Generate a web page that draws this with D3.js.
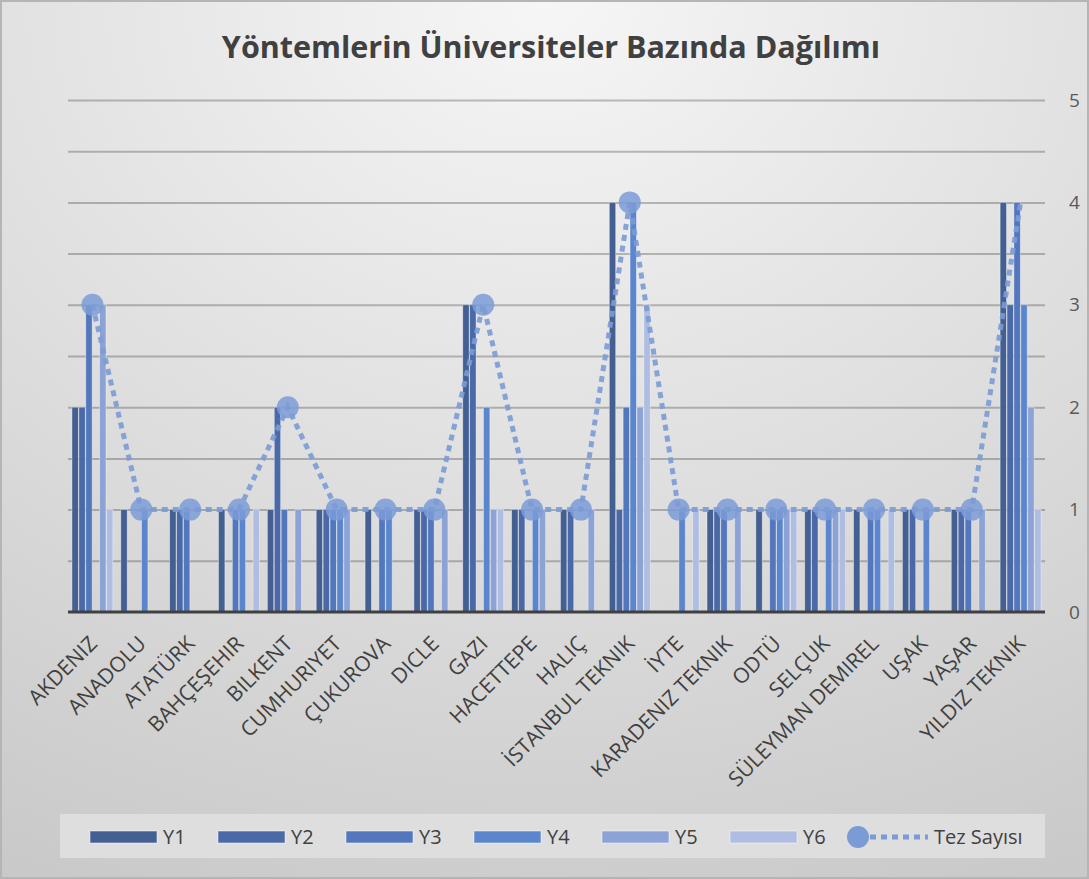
<!DOCTYPE html>
<html>
<head>
<meta charset="utf-8">
<script src="https://cdn.jsdelivr.net/npm/d3@7"></script>
<style>
  body { margin: 0; background: #fff; }
  svg text { font-family: "Open Sans", "DejaVu Sans", sans-serif; }
</style>
</head>
<body>
<div id="chart"></div>
<script>
// universities (x categories)
var universities = ["AKDENIZ", "ANADOLU", "ATATÜRK", "BAHÇEŞEHIR", "BILKENT", "CUMHURIYET",
  "ÇUKUROVA", "DICLE", "GAZI", "HACETTEPE", "HALIÇ", "İSTANBUL TEKNIK", "İYTE",
  "KARADENIZ TEKNIK", "ODTÜ", "SELÇUK", "SÜLEYMAN DEMIREL", "UŞAK", "YAŞAR", "YILDIZ TEKNIK"];

var seriesNames = ["Y1", "Y2", "Y3", "Y4", "Y5", "Y6"];

var y1 = [2, 1, 1, 1, 1, 1, 1, 1, 3, 1, 1, 4, 0, 1, 1, 1, 1, 1, 1, 4];
var y2 = [2, 0, 1, 0, 2, 1, 0, 1, 3, 1, 1, 1, 0, 1, 0, 1, 0, 1, 1, 3];
var y3 = [3, 0, 1, 1, 1, 1, 1, 1, 0, 0, 0, 2, 0, 1, 1, 0, 1, 0, 1, 4];
var y4 = [0, 1, 0, 1, 0, 1, 1, 0, 2, 1, 0, 4, 1, 0, 1, 1, 1, 1, 0, 3];
var y5 = [3, 0, 0, 0, 1, 1, 0, 1, 1, 1, 1, 2, 0, 1, 1, 1, 0, 0, 1, 2];
var y6 = [1, 0, 0, 1, 0, 0, 0, 0, 1, 0, 0, 3, 1, 0, 1, 1, 1, 0, 0, 1];
var tezSayisi = [3, 1, 1, 1, 2, 1, 1, 1, 3, 1, 1, 4, 1, 1, 1, 1, 1, 1, 1, 4];

var yTicks = [0, 1, 2, 3, 4, 5];

var seriesValues = [y1, y2, y3, y4, y5, y6];
var seriesColors = ["#445f91", "#4a69a6", "#5277bc", "#5b86cd", "#8da2d5", "#aebde1"];
var lineColor = "#7b9bd6";

var width = 1089, height = 879;
var plot = { left: 68, right: 1045, top: 100, bottom: 612 };

var svg = d3.select("#chart").append("svg")
  .attr("width", width)
  .attr("height", height);

// background
var defs = svg.append("defs");
var grad = defs.append("radialGradient")
  .attr("id", "bg")
  .attr("cx", "50%").attr("cy", "0%").attr("r", "110%");
grad.append("stop").attr("offset", "0%").attr("stop-color", "#f6f6f6");
grad.append("stop").attr("offset", "100%").attr("stop-color", "#c9c9c9");

svg.append("rect")
  .attr("x", 1).attr("y", 1)
  .attr("width", width - 2).attr("height", height - 2)
  .style("fill", "url(#bg)")
  .style("stroke", "#b5b5b5")
  .style("stroke-width", 2);

// title
svg.append("text")
  .attr("x", 551)
  .attr("y", 58)
  .attr("text-anchor", "middle")
  .style("font-size", "30.5px")
  .style("font-weight", "bold")
  .style("fill", "#404040")
  .text("Yöntemlerin Üniversiteler Bazında Dağılımı");

// scales
var x0 = d3.scaleBand()
  .domain(universities)
  .range([plot.left, plot.right])
  .paddingInner(0.14)
  .paddingOuter(0.07);

var x1 = d3.scaleBand()
  .domain(seriesNames)
  .range([0, x0.bandwidth()])
  .padding(0.08);

var y = d3.scaleLinear()
  .domain([0, 5])
  .range([plot.bottom, plot.top]);

// gridlines every 0.5
svg.append("g")
  .attr("class", "grid")
  .attr("transform", "translate(" + plot.left + ",0)")
  .call(d3.axisLeft(y).tickValues(d3.range(0.5, 5.01, 0.5)).tickSize(-(plot.right - plot.left)).tickFormat(""))
  .call(function(g){ g.select(".domain").remove(); })
  .selectAll("line")
    .style("stroke", "#000")
    .style("stroke-opacity", 0.24)
    .style("stroke-width", 2);

// bars
var groups = svg.append("g").selectAll(".group")
  .data(universities)
  .enter().append("g")
    .attr("class", "group")
    .attr("transform", function(d){ return "translate(" + x0(d) + ",0)"; });

groups.selectAll("rect")
  .data(function(d, i){
    return seriesNames.map(function(s, j){ return { key: s, value: seriesValues[j][i], idx: j }; });
  })
  .enter().append("rect")
    .attr("x", function(d){ return x1(d.key); })
    .attr("y", function(d){ return y(d.value); })
    .attr("width", x1.bandwidth())
    .attr("height", function(d){ return y(0) - y(d.value); })
    .style("fill", function(d){ return seriesColors[d.idx]; })
    .style("stroke", "#ffffff")
    .style("stroke-opacity", 0.45)
    .style("stroke-width", 0.8);

// x axis line
svg.append("line")
  .attr("x1", plot.left).attr("x2", plot.right)
  .attr("y1", y(0)).attr("y2", y(0))
  .style("stroke", "#404040")
  .style("stroke-width", 3);

// Tez Sayisi line
var line = d3.line()
  .x(function(d, i){ return x0(universities[i]) + x0.bandwidth() / 2; })
  .y(function(d){ return y(d); });

svg.append("path")
  .datum(tezSayisi)
  .attr("d", line)
  .style("fill", "none")
  .style("stroke", lineColor)
  .style("stroke-width", 5)
  .style("stroke-dasharray", "6,5")
  .style("opacity", 0.9);

// markers (last point has no marker in the original)
svg.append("g").selectAll("circle")
  .data(tezSayisi.slice(0, tezSayisi.length - 1))
  .enter().append("circle")
    .attr("cx", function(d, i){ return x0(universities[i]) + x0.bandwidth() / 2; })
    .attr("cy", function(d){ return y(d); })
    .attr("r", 11)
    .style("fill", lineColor)
    .style("opacity", 0.85);

// right y axis labels
svg.append("g")
  .attr("transform", "translate(" + plot.right + ",0)")
  .call(d3.axisRight(y).tickValues(yTicks).tickSize(0).tickPadding(24).tickFormat(d3.format("d")))
  .call(function(g){ g.select(".domain").remove(); })
  .selectAll("text")
    .style("font-size", "19px")
    .style("fill", "#595959");

// x axis labels
svg.append("g")
  .attr("transform", "translate(0," + y(0) + ")")
  .call(d3.axisBottom(x0).tickSize(0))
  .call(function(g){ g.select(".domain").remove(); })
  .selectAll("text")
    .attr("x", 0).attr("y", 0).attr("dy", 0)
    .attr("transform", "translate(6,33) rotate(-45)")
    .attr("text-anchor", "end")
    .style("font-size", "21px")
    .style("fill", "#404040");

// legend
var legend = svg.append("g");
legend.append("rect")
  .attr("x", 60).attr("y", 814)
  .attr("width", 985).attr("height", 44)
  .style("fill", "#dedede");

var legendItems = legend.selectAll(".legend-item")
  .data(seriesNames)
  .enter().append("g")
    .attr("class", "legend-item")
    .attr("transform", function(d, i){ return "translate(" + (90 + i * 128) + ",831)"; });

legendItems.append("rect")
  .attr("width", 67).attr("height", 12)
  .style("fill", function(d, i){ return seriesColors[i]; })
  .style("stroke", "#fff")
  .style("stroke-opacity", 0.5);

legendItems.append("text")
  .attr("x", 73).attr("y", 6).attr("dy", "0.35em")
  .style("font-size", "20px")
  .style("fill", "#404040")
  .text(function(d){ return d; });

var tezLegend = legend.append("g").attr("transform", "translate(858,837)");
tezLegend.append("line")
  .attr("x1", 12).attr("x2", 70)
  .style("stroke", lineColor)
  .style("stroke-width", 5)
  .style("stroke-dasharray", "6,5");
tezLegend.append("circle")
  .attr("r", 11)
  .style("fill", lineColor);
tezLegend.append("text")
  .attr("x", 76).attr("dy", "0.35em")
  .style("font-size", "20px")
  .style("fill", "#404040")
  .text("Tez Sayısı");
</script>
</body>
</html>
